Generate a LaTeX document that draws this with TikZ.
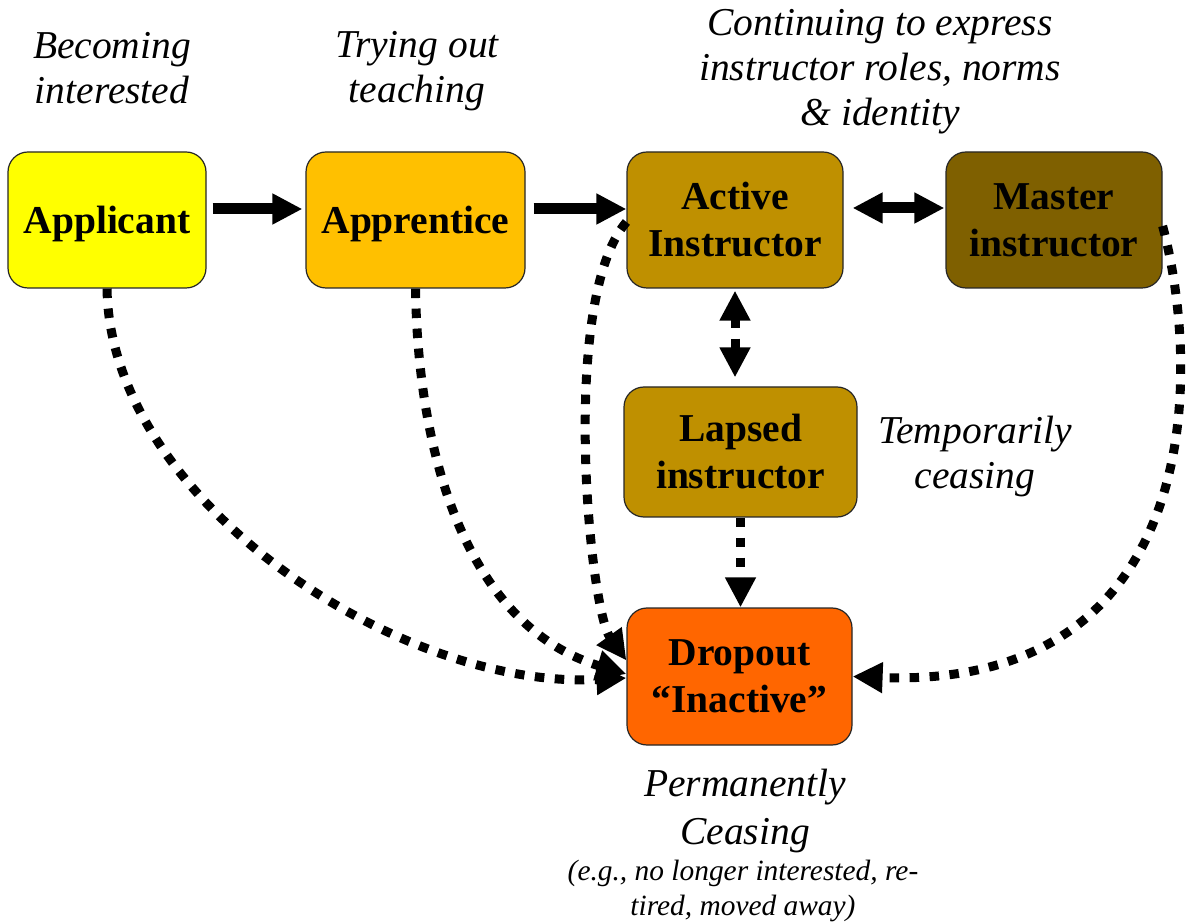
\documentclass[tikz,border=0pt]{standalone}
\usepackage{fontspec}
\setmainfont{Liberation Serif}
\usetikzlibrary{arrows.meta}
\definecolor{applicantyellow}{HTML}{FFFF00}
\definecolor{apprenticegold}{HTML}{FFC000}
\definecolor{activegold}{HTML}{BF9000}
\definecolor{masterbrown}{HTML}{7F6000}
\definecolor{dropoutorange}{HTML}{FF6600}
\newcommand{\boxfont}{\fontsize{19.75}{23.5}\selectfont\bfseries}
\newcommand{\notefont}{\fontsize{19.75}{22.5}\selectfont\itshape}
\newcommand{\smallnotefont}{\fontsize{14.7}{17.5}\selectfont\itshape}
\begin{document}
\begin{tikzpicture}[x=0.5pt, y=-0.5pt, >={Triangle[length=15pt,width=14.5pt]},
    stage/.style={draw=black!85, line width=0.6pt, rounded corners=10pt, align=center, font=\boxfont, inner sep=0pt},
    note/.style={align=center, font=\notefont},
    flow/.style={line width=5.5pt, ->},
    drop/.style={line width=4.5pt, dash pattern=on 4.75pt off 5.25pt, ->}]
    \useasboundingbox (0,0) rectangle (1188,924);
    % stages
    \node[stage, fill=applicantyellow, minimum width=99pt, minimum height=68pt, text depth=0pt] (applicant) at (107,220) {Applicant};
    \node[stage, fill=apprenticegold, minimum width=109.5pt, minimum height=68pt, text depth=0pt] (apprentice) at (415.5,220) {Apprentice};
    \node[stage, fill=activegold, minimum width=108pt, minimum height=68pt] (active) at (735,220) {Active\\Instructor};
    \node[stage, fill=masterbrown, minimum width=108pt, minimum height=68pt] (master) at (1054,220) {Master\\instructor};
    \node[stage, fill=activegold, minimum width=116.5pt, minimum height=65pt] (lapsed) at (740.5,452) {Lapsed\\instructor};
    \node[stage, fill=dropoutorange, minimum width=112.5pt, minimum height=68.5pt] (dropout) at (739.5,676.5) {Dropout\\``Inactive''};
    % notes
    \node[note] (becoming) at (112,68) {Becoming\\interested};
    \node[note] (trying) at (417,71) {Trying out\\teaching};
    \node[note] (continuing) at (880,72) {Continuing to express\\instructor roles, norms\\\& identity};
    \node[note] (temporarily) at (975,457) {Temporarily\\ceasing};
    \node[note, font=\fontsize{19.75}{24}\selectfont\itshape] (permanently) at (745,811) {Permanently\\Ceasing};
    \node[note, font=\smallnotefont] (examples) at (743,891) {(e.g., no longer interested, re-\\tired, moved away)};
    % solid arrows
    \draw[flow] ([xshift=3pt,yshift=5.5pt]applicant.east) -- ([xshift=-1.5pt,yshift=5.5pt]apprentice.west);
    \draw[flow] ([xshift=4pt,yshift=5.5pt]apprentice.east) -- ([yshift=5.5pt]active.west);
    \draw[flow, <->] ([xshift=4.5pt,yshift=6pt]active.east) -- ([xshift=-0.5pt,yshift=6pt]master.west);
    % dotted arrows
    \draw[drop, <->] ([yshift=-1pt]active.south) -- ([yshift=4.5pt]active.south |- lapsed.north);
    \draw[drop] (lapsed.south) -- (lapsed.south |- dropout.north);
    \draw[drop] (applicant.south) .. controls +(3,212) and +(-227,12) .. ([yshift=-0.75pt]dropout.west);
    \draw[drop] (apprentice.south) .. controls +(3,192) and +(-147,-44) .. ([yshift=1.25pt]dropout.west);
    \draw[drop] ([yshift=-1pt]active.west) .. controls +(-67,78) and +(-37,-52) .. ([yshift=8pt]dropout.west);
    \draw[drop] ([yshift=-3pt]master.east) .. controls +(40,150) and +(350,13) .. (dropout.east);
\end{tikzpicture}
\end{document}
